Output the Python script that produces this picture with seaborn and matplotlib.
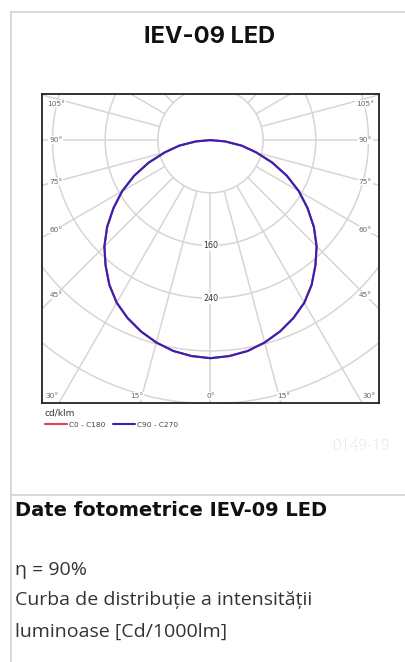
import matplotlib
matplotlib.use("Agg")
import matplotlib.pyplot as plt
from matplotlib.patches import Circle
from matplotlib.lines import Line2D
import numpy as np
import pandas as pd
import seaborn as sns

sns.set_style("white")
plt.rcParams['font.family'] = ['Open Sans', 'DejaVu Sans']

# luminous intensity (cd/klm) vs angle from nadir, one half (curve is symmetric)
angles = [0, 5, 10, 15, 20, 25, 30, 35, 40, 45, 50, 55, 60, 65, 70, 75, 80, 85, 90]
c0_c180 = [331, 329, 325, 318, 309, 298, 285, 268, 248, 228, 205, 180, 155, 128, 100, 72, 48, 22, 0]
c90_c270 = [331, 329, 325, 318, 309, 298, 285, 268, 248, 228, 205, 180, 155, 128, 100, 72, 48, 22, 0]
curve_names = ['C0 - C180', 'C90 - C270']
ring_values = [80, 160, 240, 320, 400, 480]
ring_labels = [160, 240]
spoke_angles = list(range(0, 360, 15))
side_labels = [45, 60, 75, 90, 105]
bottom_labels = [0, 15, 30]

W, H = 406, 662
fig = plt.figure(figsize=(W / 100, H / 100), dpi=100)
fig.patch.set_facecolor('white')

def fx(px):
    return px / W

def fy(py):
    return 1 - py / H

# card borders
grey = '#d2d2d2'
fig.add_artist(Line2D([fx(11), fx(11)], [0, fy(12)], color=grey, lw=1.2, transform=fig.transFigure))
fig.add_artist(Line2D([fx(11), 1], [fy(12), fy(12)], color=grey, lw=1.2, transform=fig.transFigure))
fig.add_artist(Line2D([fx(11), 1], [fy(495), fy(495)], color=grey, lw=1.2, transform=fig.transFigure))

fig.text(fx(210), fy(37), 'IEV-09 LED', ha='center', va='center', fontsize=17,
         fontweight='bold', color='#111111', family=['Inter', 'DejaVu Sans'])

ax = fig.add_axes([fx(42), fy(403), fx(379) - fx(42), (403 - 94) / H])

rows = []
for name, vals in zip(curve_names, [c0_c180, c90_c270]):
    th = [-a for a in angles[::-1]] + angles[1:]
    iv = vals[::-1] + vals[1:]
    for t, v in zip(th, iv):
        r = np.radians(t)
        rows.append({'curve': name, 'x': v * np.sin(r), 'y': -v * np.cos(r)})
df = pd.DataFrame(rows)

sns.lineplot(data=df, x='x', y='y', hue='curve', sort=False, estimator=None,
             palette={'C0 - C180': '#e0405a', 'C90 - C270': '#3422b4'},
             lw=1.5, ax=ax, legend=False, zorder=5)

# grid
gc = '#d6d6d6'
for rv in ring_values:
    ax.add_patch(Circle((0, 0), rv, fill=False, ec=gc, lw=1.1, zorder=1))
for a in spoke_angles:
    t = np.radians(a)
    ax.plot([80 * np.sin(t), 800 * np.sin(t)], [-80 * np.cos(t), -800 * np.cos(t)],
            color=gc, lw=1.1, zorder=1)

lab = dict(fontsize=5.3, color='#666666', family='DejaVu Sans', ha='center', va='center',
           bbox=dict(fc='white', ec='none', pad=0.6), zorder=3)
for a in side_labels:
    y = min(-235 / np.tan(np.radians(a)), 55)
    ax.text(-235, y, f'{a}°', **lab)
    ax.text(235, y, f'{a}°', **lab)
for a in bottom_labels:
    x = 390 * np.tan(np.radians(a)) * 1.07
    ax.text(-x, -388, f'{a}°', **lab)
    if a:
        ax.text(x, -388, f'{a}°', **lab)
for rv in ring_labels:
    ax.text(0, -rv, str(rv), fontsize=5.8, color='#333333', family='DejaVu Sans',
            ha='center', va='center', bbox=dict(fc='white', ec='none', pad=0.6), zorder=3)

ax.set_xlim(-256, 256)
ax.set_ylim(-399, 70)
ax.set_xticks([])
ax.set_yticks([])
ax.set_xlabel('')
ax.set_ylabel('')
for s in ax.spines.values():
    s.set_visible(True)
    s.set_color('#222222')
    s.set_linewidth(1.3)
    s.set_zorder(6)

leg = fig.legend(handles=ax.lines[:2], labels=curve_names, title='cd/klm', ncol=2,
                 loc='upper left', bbox_to_anchor=(fx(45), fy(409)), frameon=False,
                 title_fontsize=6.5, handlelength=3.0, handletextpad=0.25,
                 columnspacing=1.0, borderpad=0, borderaxespad=0, alignment='left',
                 prop={'family': 'DejaVu Sans', 'size': 5.3})
leg.get_title().set_color('#333333')
leg.get_title().set_family('DejaVu Sans')
for t in leg.get_texts():
    t.set_color('#444444')

fig.text(fx(390), fy(447), '0149-19', ha='right', va='center', fontsize=11,
         color='#e6e6e6', fontweight='light')

fig.text(fx(15), fy(511), 'Date fotometrice IEV-09 LED', ha='left', va='center',
         fontsize=14, fontweight='bold', color='#111111', family='DejaVu Sans')
txt = dict(ha='left', va='center', fontsize=14, color='#333333')
fig.text(fx(15), fy(570), 'η = 90%', **txt)
fig.text(fx(15), fy(600), 'Curba de distribuție a intensității', **txt)
fig.text(fx(15), fy(632), 'luminoase [Cd/1000lm]', **txt)

fig.savefig('out.png', dpi=100, facecolor='white')
